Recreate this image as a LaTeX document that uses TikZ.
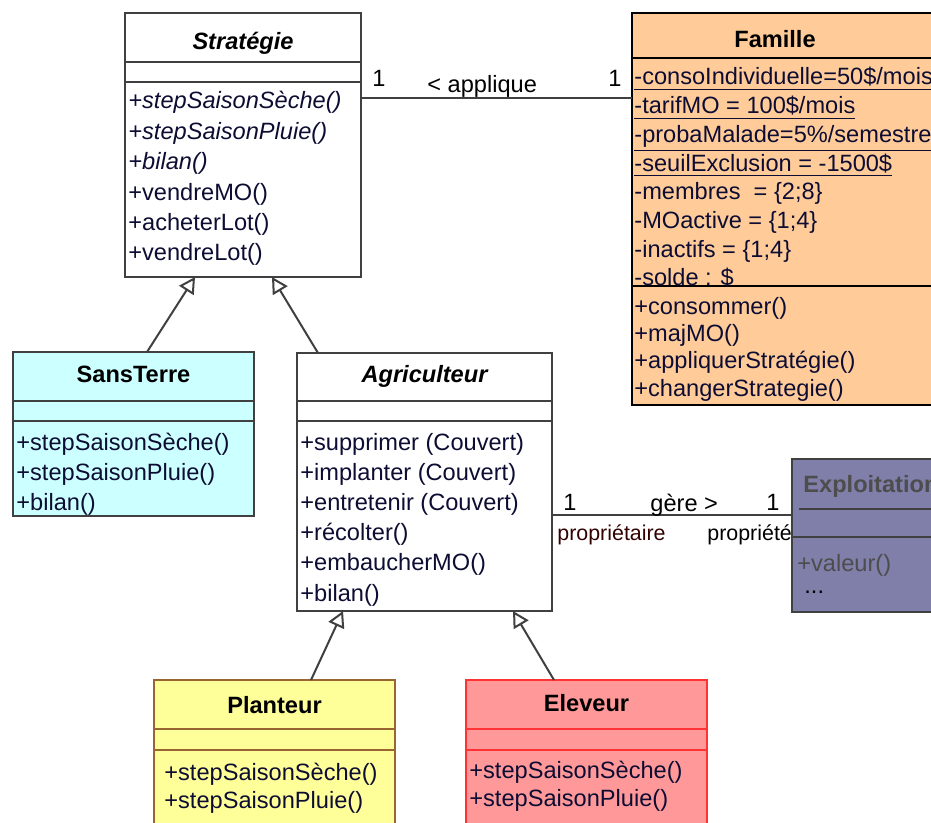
\documentclass[tikz,border=0pt]{standalone}
\usepackage{fontspec}
\setmainfont{Liberation Sans}
\usetikzlibrary{arrows.meta}
\definecolor{ink}{HTML}{0D0D33}
\definecolor{edge}{HTML}{404040}
\definecolor{aqua}{HTML}{CCFFFF}
\definecolor{peach}{HTML}{FFCC99}
\definecolor{lemon}{HTML}{FFFF99}
\definecolor{ocre}{HTML}{996633}
\definecolor{salmon}{HTML}{FF9999}
\definecolor{scarlet}{HTML}{FF3333}
\definecolor{slate}{HTML}{7F7FAA}
\definecolor{ash}{HTML}{4D4D4D}
\definecolor{maroon}{HTML}{330000}
\newcommand{\memfont}{\fontsize{11.8}{14}\selectfont}
\newcommand{\rolefont}{\fontsize{10.7}{13}\selectfont}

\begin{document}
\begin{tikzpicture}[
  x=0.5pt, y=-0.5pt,
  font=\memfont,
  classbox/.style={draw=edge, line width=1pt, fill=white, inner sep=0pt, outer sep=0pt},
  compart/.style={draw=edge, line width=1pt},
  clsname/.style={anchor=base, inner sep=0pt, font=\memfont\bfseries, text=black},
  abstractname/.style={clsname, font=\memfont\bfseries\itshape},
  member/.style={anchor=base west, inner sep=0pt, text=ink},
  role/.style={anchor=base west, inner sep=0pt, text=black},
  gen/.style={-{Triangle[open, length=8pt, width=8.5pt]}, line width=1pt, draw=edge},
  assoc/.style={line width=1pt, draw=edge}
]
\useasboundingbox (0,0) rectangle (931,823);
\fill[white] (0,0) rectangle (931,823);
\clip (0,0) rectangle (931,823);

% Strategie
\node[classbox, minimum width=118pt, minimum height=132pt] (strat) at (243,145) {};
\draw[compart] (strat.west |- 0,62) -- (strat.east |- 0,62);
\draw[compart] (strat.west |- 0,82) -- (strat.east |- 0,82);
\node[abstractname] (strat-name) at (243,50) {Stratégie};
\foreach \m [count=\i from 0] in {\textit{+stepSaisonSèche()}, \textit{+stepSaisonPluie()},
    \textit{+bilan()}, +vendreMO(), +acheterLot(), +vendreLot()}
  \node[member] (strat-m\i) at (128,109+30.4*\i) {\m};

% Famille
\node[classbox, fill=peach, draw=black, minimum width=164pt, minimum height=196pt] (fam) at (796,209) {};
\draw[compart, draw=black] (fam.west |- 0,58) -- (fam.east |- 0,58);
\draw[compart, draw=black] (fam.west |- 0,286) -- (fam.east |- 0,286);
\node[clsname] (fam-name) at (775,48) {Famille};
\foreach \a [count=\i from 0] in {{\underline{-consoIndividuelle=50\$/mois}}, {\underline{-tarifMO = 100\$/mois}},
    {\underline{-probaMalade=5\%/semestre}}, {\underline{-seuilExclusion = -1500\$}},
    {-membres \ = \{2;8\}}, {-MOactive = \{1;4\}}, {-inactifs = \{1;4\}}, {-solde : \$}}
  \node[member] (fam-a\i) at (634,85+28.7*\i) {\a};
\foreach \m [count=\i from 0] in {+consommer(), +majMO(), +appliquerStratégie(), +changerStrategie()}
  \node[member] (fam-m\i) at (634,315+27*\i) {\m};

% association applique
\draw[assoc] ([yshift=-42.5pt]strat.north east) -- ([yshift=-42.5pt]fam.north west);
\node[role] (app-1a) at (372,87) {1};
\node[role] (app-lbl) at (427,93) {< applique};
\node[role] (app-1b) at (608,87) {1};

% SansTerre
\node[classbox, fill=aqua, minimum width=120.5pt, minimum height=82pt] (sans) at (133.5,434) {};
\draw[compart] (sans.west |- 0,401) -- (sans.east |- 0,401);
\draw[compart] (sans.west |- 0,421) -- (sans.east |- 0,421);
\node[clsname] (sans-name) at (133.5,383) {SansTerre};
\foreach \m [count=\i from 0] in {+stepSaisonSèche(), +stepSaisonPluie(), +bilan()}
  \node[member] (sans-m\i) at (16,451+29.5*\i) {\m};

% Agriculteur
\node[classbox, minimum width=127.5pt, minimum height=129pt] (agri) at (424.5,482) {};
\draw[compart] (agri.west |- 0,401) -- (agri.east |- 0,401);
\draw[compart] (agri.west |- 0,421) -- (agri.east |- 0,421);
\node[abstractname] (agri-name) at (424.5,383) {Agriculteur};
\foreach \m [count=\i from 0] in {+supprimer (Couvert), +implanter (Couvert), +entretenir (Couvert),
    +récolter(), +embaucherMO(), +bilan()}
  \node[member] (agri-m\i) at (300,450+30.2*\i) {\m};

% Exploitation
\node[classbox, fill=slate, minimum width=84pt, minimum height=76.5pt] (expl) at (876,535.5) {};
\draw[compart] (799,509) -- (expl.east |- 0,509);
\draw[compart] (expl.west |- 0,537) -- (expl.east |- 0,537);
\node[clsname, anchor=base west, text=ash] (expl-name) at (803,492) {Exploitation};
\node[member, text=ash] (expl-m0) at (797,571) {+valeur()};
\node[member, text=black] (expl-m1) at (804,593) {...};

% association gere
\draw[assoc] ([yshift=-81pt]agri.north east) -- ([yshift=-28pt]expl.north west);
\node[role] (ger-1a) at (563,510) {1};
\node[role] (ger-lbl) at (650,511) {gère >};
\node[role] (ger-1b) at (766,510) {1};
\node[role, font=\rolefont, text=maroon] (ger-own) at (557,540) {propriétaire};
\node[role, font=\rolefont] (ger-prop) at (707,540) {propriété};

% Planteur, Eleveur
\node[classbox, fill=lemon, draw=ocre, minimum width=120.5pt, minimum height=90pt] (plant) at (274.5,770) {};
\draw[compart, draw=ocre] (plant.west |- 0,729) -- (plant.east |- 0,729);
\draw[compart, draw=ocre] (plant.west |- 0,750) -- (plant.east |- 0,750);
\node[clsname] (plant-name) at (274.5,713) {Planteur};
\foreach \m [count=\i from 0] in {+stepSaisonSèche(), +stepSaisonPluie()}
  \node[member] (plant-m\i) at (164,780+28*\i) {\m};

\node[classbox, fill=salmon, draw=scarlet, minimum width=120.5pt, minimum height=90pt] (elev) at (586.5,770) {};
\draw[compart, draw=scarlet] (elev.west |- 0,729) -- (elev.east |- 0,729);
\draw[compart, draw=scarlet] (elev.west |- 0,750) -- (elev.east |- 0,750);
\node[clsname] (elev-name) at (586.5,711) {Eleveur};
\foreach \m [count=\i from 0] in {+stepSaisonSèche(), +stepSaisonPluie()}
  \node[member] (elev-m\i) at (469,778+28*\i) {\m};

% generalisations
\draw[gen] ([xshift=67pt]sans.north west) -- ([xshift=35pt]strat.south west);
\draw[gen] ([xshift=10.5pt]agri.north west) -- ([xshift=73.5pt]strat.south west);
\draw[gen] ([xshift=78.5pt]plant.north west) -- ([xshift=23pt]agri.south west);
\draw[gen] ([xshift=44pt]elev.north west) -- ([xshift=108pt]agri.south west);

\end{tikzpicture}
\end{document}
